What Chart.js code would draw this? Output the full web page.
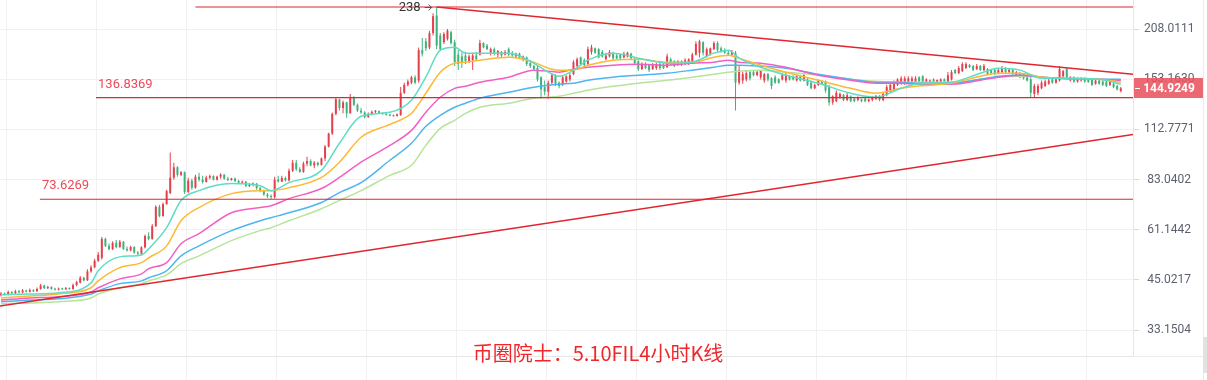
<!DOCTYPE html>
<html>
<head>
<meta charset="utf-8">
<script src="https://cdn.jsdelivr.net/npm/chart.js@4.4.0/dist/chart.umd.min.js"></script>
<style>
html, body { margin: 0; padding: 0; background: #fff; }
#wrap { width: 1207px; height: 380px; }
</style>
</head>
<body>
<div id="wrap"><canvas id="kline" width="1207" height="380"></canvas></div>
<script>
// FIL 4h candles, oldest first (one per 4 hours)
const opens = [
  41.0,41.4,41.2,41.8,41.5,42.0,41.7,42.2,41.9,42.3,42.0,42.6,43.5,42.8,43.1,42.6,42.4,42.7,42.5,42.8,
  42.6,43.6,44.3,45.6,44.9,47.4,48.6,50.6,51.5,57.8,55.4,54.3,56.4,55.0,56.8,54.4,53.9,55.0,53.2,52.8,
  54.9,58.8,57.8,62.5,70.3,66.5,71.5,76.5,84.0,89.5,85.5,86.8,77.0,82.5,79.0,84.5,83.0,81.8,84.0,84.8,
  83.0,84.5,85.6,83.5,82.8,83.6,82.3,81.5,82.0,79.8,80.6,81.0,78.8,77.5,75.8,75.0,74.6,83.0,82.0,83.8,
  82.6,87.6,92.0,88.5,87.0,91.5,93.0,90.5,92.0,90.8,94.5,101.5,110.0,124.0,135.5,128.5,133.0,124.5,137.0,131.0,
  126.5,125.0,121.5,124.0,125.5,126.0,124.5,123.8,123.2,122.6,122.3,123.0,141.0,148.0,150.0,155.0,152,183,193,186,
  203,226,200,192,196,204,192,178,176,177,171,172,177,178,191,188,180,184,178,181,
  178,184,180,176,179,173,175,169,166,164,155,146,142,150,157,150,148,151,153,158,
  166,175,172,168,181,185,184,181,173,176,180,177,178,175,176,179,173,171,163,168,
  167,163,164,168,167,165,173,171,168,171,168,169,170,178,180,192,176,179,184,191,
  185,183,180,178,180,150,152,153,160,160,157,155,152,158,154,155,153,153,152,156,
  156,152,156,152,153,150,145,148,151,151,146,133,134,137,139,135,138,136,135,135.5,
  136,134,135,136,138.5,135,139,142,143,148,149,150,150,151,150,155,156,150,150,153,
  150,150,153,149,153,162,159,161,164,167,166,163,166,162,163,162,162,159,160,164,
  160,162,157,159,158,155,153,140,141,145,147,149,153,150,152,156,163,152,155,151,
  152,154.5,153,153,149,152,151,151,148,149,147,142.5
];
const highs = [
  41.8,41.7,42.2,42.0,42.4,42.3,42.6,42.4,42.7,42.5,43.0,43.9,43.7,43.4,43.3,42.9,43.0,42.9,43.1,43.0,
  44.0,44.8,46.1,45.9,48.0,49.2,51.2,53.4,58.5,58.2,56.2,57.0,57.4,57.4,57.1,55.2,55.4,55.3,53.7,55.3,
  59.4,60.2,63.3,71.0,71.2,72.2,78.0,98.0,92.0,90.0,87.5,87.2,84.0,83.5,85.5,86.5,85.0,85.0,85.6,85.2,
  85.0,86.3,85.8,84.5,84.0,84.0,83.0,82.6,82.3,81.2,81.6,81.3,79.5,78.0,76.5,75.8,84.5,85.0,85.0,84.6,
  88.8,93.5,93.5,89.5,92.5,95.5,94.0,93.0,92.5,95.0,102.5,110.5,125.0,137.0,136.0,134.5,133.5,140.0,138.0,132.0,
  128.5,126.0,125.0,126.5,127.0,126.5,125.2,124.5,123.8,123.5,124.3,146.0,150.0,153.0,156.5,157.0,186,197,197,206,
  229,238,203,204,208,206,195,183,180,181,178,180,181,195,192,190,186,186,183,182,
  183,186,182,180,180,177,176,172,167,166,156,152,152,159,158,151,157,157,159,172,
  175,176,174,187,189,186,185,183,180,183,181,179,179,181,181,180,175,172,170,170,
  168,169,169,170,169,179,175,172,172,172,174,174,180,193,195,193,186,186,193,193,
  187,185,182,183,182,166,160,161,162,162,162,162,159,159,155,157,154,159,159,157,
  157,157,157,159,154,152,149,153,152,152,148,139,143,141,140,141,139,137,138,136,
  137,136,138,139,139,141,148,150,152,154,156,156,156,156,156,156,157,154,153,154,
  153,154,154,160,162,163,166,170,170,168,167,168,167,168,164,163,163,164,166,165,
  164,163,161,160,159,156,155,149,149,152,153,154,154,154,166,162,164,156,156,155,
  155,155,154,154,153,153,152,152,152,150,148,146
];
const lows = [
  40.7,40.9,41.0,41.2,41.3,41.5,41.5,41.7,41.7,41.8,41.9,42.4,42.6,42.6,42.4,42.2,42.2,42.3,42.3,42.4,
  42.4,43.3,44.0,44.6,44.7,47.0,48.3,50.2,51.0,55.0,53.9,54.0,54.6,54.8,54.0,53.5,53.6,52.8,52.3,52.5,
  54.5,57.3,57.5,62.2,66.0,66.2,71.2,76.0,83.0,84.5,84.8,76.0,76.5,78.0,78.5,82.0,81.0,81.5,83.2,82.5,
  82.6,83.5,83.0,82.3,82.4,81.8,80.8,81.0,79.2,79.4,79.6,78.0,76.8,75.2,74.2,73.8,74.0,81.5,81.8,82.0,
  82.0,87.0,87.6,86.5,86.5,90.0,90.0,89.0,90.0,90.5,93.0,101.0,109.0,123.0,126.5,124.5,121.0,124.0,130.0,125.5,
  124.0,120.5,121.0,123.0,124.5,124.0,123.3,122.7,122.2,121.8,122.0,122.5,140.0,146.5,148.5,148.5,150,176,182,184,
  200,184,182,190,194,189,166,162,164,168,169,162,172,177,185,183,177,177,175,175,
  177,176,175,174,174,171,166,164,161,151,136,139,136,148,147,145,147,150,151,157,
  165,166,166,167,178,179,174,175,172,175,172,173,172,174,175,172,168,161,162,163,
  160,162,162,162,163,164,166,165,166,166,167,167,169,177,175,177,175,177,183,181,
  180,179,177,177,126.5,148,149,151,152,156,156,153,150,151,144,149,149,152,150,152,
  152,151,151,151,147,144,144,147,148,141,130.5,131,133,136,134,134,133,133,134,133,
  133,133,134,135,134,134,138,141,142,147,148,148,149,149,148,149,149,149,149,149,
  149,149,149,148,152,158,158,160,163,164,161,162,161,161,157,158,157,158,159,158,
  159,157,156,154,153,151,136.9,137.5,139,144,146,148,149,149,151,154,153,151,150,150,
  151,150,150,147,148,148,147,146,147,145,143,141.5
];
const closes = [
  41.4,41.2,41.8,41.5,42.0,41.7,42.2,41.9,42.3,42.0,42.6,43.5,42.8,43.1,42.6,42.4,42.7,42.5,42.8,42.6,
  43.6,44.4,45.6,44.9,47.4,48.6,50.6,52.5,57.8,55.4,54.3,56.4,55.0,56.8,54.4,53.9,55.0,53.2,52.8,54.9,
  58.8,57.8,62.5,70.3,66.5,71.5,77.4,84.0,89.5,85.5,86.8,77.0,82.5,79.0,84.5,83.0,81.8,84.0,84.8,83.0,
  84.5,85.6,83.5,82.8,83.6,82.3,81.5,82.0,79.8,80.6,81.0,78.8,77.5,75.8,75.0,74.6,83.0,82.0,83.8,82.6,
  87.6,92.0,88.5,87.0,91.5,93.0,90.5,92.0,90.8,94.5,101.5,110.0,124.0,135.5,128.5,133.0,124.5,137.0,131.0,126.5,
  125.0,121.5,124.0,125.5,126.0,124.5,123.8,123.2,122.6,122.3,123.5,141.0,148.0,151.0,155.0,150.0,183,179,185,203,
  225,188,184,202,206,191,170,168,170,171,176,177,173,191,186,184,184,179,182,177,
  181,178,177,179,175,176,168,166,163,153,144,142,150,157,149,147,155,156,157,170,
  173,168,167,184,186,180,175,176,177,181,174,174,174,179,180,174,169,163,168,164,
  162,167,168,164,164,176,168,166,171,167,172,173,178,190,193,180,184,185,191,183,
  181,180,178,181,150,162,158,159,154,157,160,161,158,153,147,150,150,157,157,153,
  153,156,152,157,148,145,148,152,149,143,133,138,141,140,135,139,134,134,137,134,
  134,135.5,137.5,138.5,135,140,146,148,150,153,154,154,154,154,154,151,150,153,152,150,
  152.5,153,151,157,160,159,164,168,168,165,162,166,162,166,158,159,158,162,164,160,
  162.5,158,160,155,154,152,141,147,147,150,151,152,150,153,163,161,155,155,151,154,
  154.5,151,150.5,148,152,149,148,147,151,146,144,144.9249
];

// moving averages, read at these candle numbers
const maIdx = [0,8,16,25,27,33,39,41,46,50,55,64,72,75,80,89,94,100,108,114,
  118,122,126,129,133,141,148,152,155,159,163,170,177,185,192,198,202,205,211,218,
  227,236,243,250,254,264,272,277,283,289,294,305,311];
const ma5 = [41.1,41.3,41.6,44.2,47.6,51.8,52.4,54.4,61.9,73.1,77.6,81.0,80.0,77.6,81.5,87.8,103.6,122.2,125.2,134.7,
  155.1,182.9,186.3,179.6,179.6,179.6,168.9,159.9,156.0,161.9,172.1,179.6,174.2,168.9,170.0,179.6,182.9,174.2,164.8,157.0,
  149.5,140.6,137.2,144.9,148.6,150.4,158.9,163.8,161.9,154.1,154.1,153.2,148.6];
const ma10 = [40.3,40.8,41.3,42.9,44.75,48.5,50.0,51.5,55.4,64.6,70.0,76.2,77.6,77.6,79.0,84.1,92.3,107.5,116.3,124.4,
  140.6,159.9,168.9,170.0,172.1,175.2,170.0,163.8,161.9,161.9,166.9,172.1,173.1,170.0,170.0,175.2,177.4,174.2,166.9,159.9,
  152.2,144.9,140.6,144.9,146.7,149.5,156.0,158.9,158.9,155.1,154.1,153.2,150.4];
const ma20 = [39.8,40.3,40.6,41.8,42.9,45.3,46.7,48.2,50.0,56.1,59.7,67.8,70.0,70.8,73.9,78.6,84.1,92.3,102.3,112.1,
  125.2,137.2,144.9,146.7,150.4,155.1,161.9,160.9,159.9,162.9,164.8,166.9,167.9,166.9,168.9,170.0,172.1,170.0,168.9,164.8,
  157.0,152.2,149.5,149.5,148.6,148.6,152.2,155.1,157.0,155.1,154.1,153.2,152.2];
const ma30 = [39.4,39.8,40.1,41.3,42.1,44.0,44.75,45.6,47.6,52.1,55.4,60.8,64.6,65.8,67.8,72.2,76.7,81.5,93.4,103.6,
  114.9,122.9,129.1,132.3,136.4,141.4,145.8,147.6,148.6,149.5,152.2,155.1,157.0,158.9,161.9,164.8,166.9,166.9,165.9,163.8,
  157.9,153.2,150.4,150.4,149.5,149.5,153.2,156.0,157.0,155.1,154.1,153.2,153.2];
const ma60 = [38.9,39.1,39.4,40.3,41.3,42.9,44.0,44.75,46.4,49.7,52.1,57.2,60.8,61.9,64.6,69.5,73.1,77.6,85.2,90.6,
  102.3,113.5,119.2,124.4,129.1,132.3,136.4,137.2,138.0,140.6,143.2,146.7,149.5,152.2,155.1,157.9,159.9,160.9,161.9,159.9,
  157.0,153.2,151.3,150.4,150.4,150.4,153.2,155.1,156.0,155.1,154.1,153.2,152.2];

// horizontal levels and the candle they start from
const levels = [238, 136.8369, 73.6269];
const levelFrom = [54, 26.4, 10.8];

// trend lines: [candle, price] at each end
const upperTrend = [[121, 238], [314.4, 157.9]];
const lowerTrend = [[-0.28, 38.4], [314.4, 109.4]];

const yTicks = [33.1504, 45.0217, 61.1442, 83.0402, 112.7771, 153.1630, 208.0111];
const title = '币圈院士：5.10FIL4小时K线';

const upColor = '#e5414e';
const downColor = '#3fb27b';
const lineRed = '#e0262f';
const xMin = -0.28, xMax = 314.4;
const gridIdx = [];
for (let g = 1.4; g < xMax; g += 25) gridIdx.push(g);

const candleColors = opens.map((o, i) => closes[i] >= o ? upColor : downColor);

const maLine = (vals, color) => ({
  type: 'line',
  data: maIdx.map((x, k) => ({x: x, y: vals[k]})),
  borderColor: color,
  borderWidth: 1.5,
  pointRadius: 0,
  cubicInterpolationMode: 'monotone',
  order: 2
});

const segLine = (pts, width) => ({
  type: 'line',
  data: pts.map(p => ({x: p[0], y: p[1]})),
  borderColor: lineRed,
  borderWidth: width,
  pointRadius: 0,
  order: 1
});

const overlay = {
  id: 'overlay',
  afterDraw(chart) {
    const {ctx, chartArea: a, scales: {x, y}} = chart;
    ctx.save();

    // level captions
    ctx.font = '13px Roboto';
    ctx.textBaseline = 'alphabetic';
    ctx.fillStyle = '#ec4a58';
    ctx.textAlign = 'left';
    for (let k = 1; k < levels.length; k++) {
      const px = x.getPixelForValue(levelFrom[k]);
      const py = y.getPixelForValue(levels[k]);
      ctx.fillText(levels[k].toFixed(4), px + 2, py - 10);
    }

    // max price marker
    const peakX = x.getPixelForValue(upperTrend[0][0]);
    const peakY = y.getPixelForValue(levels[0]);
    ctx.fillStyle = '#333';
    ctx.textAlign = 'right';
    ctx.textBaseline = 'middle';
    ctx.fillText(String(levels[0]), peakX - 16, peakY + 1);
    ctx.strokeStyle = '#555';
    ctx.lineWidth = 1;
    ctx.beginPath();
    ctx.moveTo(peakX - 12, peakY + 0.5);
    ctx.lineTo(peakX - 5, peakY + 0.5);
    ctx.moveTo(peakX - 8, peakY - 2.5);
    ctx.lineTo(peakX - 5, peakY + 0.5);
    ctx.lineTo(peakX - 8, peakY + 3.5);
    ctx.stroke();

    // last price tag on the axis
    const last = closes[closes.length - 1];
    const ly = Math.round(y.getPixelForValue(last));
    ctx.fillStyle = 'rgba(232, 84, 96, 0.88)';
    ctx.fillRect(a.right + 1, ly - 10, 69, 20);
    ctx.strokeStyle = '#fff';
    ctx.beginPath();
    ctx.moveTo(a.right + 2, ly + 0.5);
    ctx.lineTo(a.right + 7, ly + 0.5);
    ctx.stroke();
    ctx.fillStyle = '#fff';
    ctx.font = 'bold 12px Roboto';
    ctx.textAlign = 'center';
    ctx.fillText(last.toFixed(4), a.right + 36, ly + 1);

    // right edge and bottom rule under the axis
    ctx.strokeStyle = '#ececec';
    ctx.beginPath();
    ctx.moveTo(1203.5, 0);
    ctx.lineTo(1203.5, 380);
    ctx.moveTo(a.right, a.bottom + 0.5);
    ctx.lineTo(1203, a.bottom + 0.5);
    ctx.stroke();
    ctx.fillStyle = '#e2e2e2';
    ctx.fillRect(1203, 337, 4, 36);

    // caption
    ctx.fillStyle = '#f0262a';
    ctx.font = '20px "Noto Sans CJK SC"';
    ctx.textAlign = 'center';
    ctx.textBaseline = 'middle';
    ctx.fillText(title, 598, 353);
    ctx.restore();
  }
};

new Chart(document.getElementById('kline'), {
  type: 'bar',
  data: {
    datasets: [
      ...levels.map((v, k) => segLine([[levelFrom[k], v], [xMax, v]], 1.2)),
      segLine(upperTrend, 1.5),
      segLine(lowerTrend, 1.5),
      maLine(ma5, '#5fdcc4'),
      maLine(ma10, '#fdb933'),
      maLine(ma20, '#f25fc3'),
      maLine(ma30, '#4db5ef'),
      maLine(ma60, '#b6e49a'),
      {
        data: lows.map((l, i) => ({x: i, y: [l, highs[i]]})),
        backgroundColor: candleColors,
        grouped: false,
        maxBarThickness: 1,
        minBarLength: 1,
        order: 3
      },
      {
        data: opens.map((o, i) => ({x: i, y: [o, closes[i]]})),
        backgroundColor: candleColors,
        grouped: false,
        maxBarThickness: 2,
        minBarLength: 1,
        order: 3
      }
    ]
  },
  options: {
    responsive: false,
    animation: false,
    events: [],
    layout: { padding: 0 },
    plugins: { legend: { display: false }, tooltip: { enabled: false } },
    scales: {
      x: {
        type: 'linear',
        offset: false,
        min: xMin,
        max: xMax,
        bounds: 'data',
        grid: { color: '#f1f1f1', tickColor: '#f1f1f1', tickLength: 24, offset: false },
        border: { color: '#e6e6e6' },
        ticks: { display: false },
        afterBuildTicks: s => { s.ticks = gridIdx.map(v => ({value: v})); },
        afterFit: s => { s.paddingLeft = 0; s.paddingRight = 0; s.height = 24; }
      },
      y: {
        type: 'logarithmic',
        position: 'right',
        min: 28.29,
        max: 248.4,
        bounds: 'data',
        grid: { color: '#f1f1f1', tickColor: '#d9d9d9', tickLength: 6 },
        border: { color: '#e6e6e6' },
        ticks: {
          crossAlign: 'center',
          padding: 5,
          color: '#5b616e',
          font: { family: 'Roboto', size: 12 },
          callback: v => Number(v).toFixed(4)
        },
        afterBuildTicks: s => { s.ticks = yTicks.map(v => ({value: v})); },
        afterFit: s => { s.width = 74; s.paddingTop = 0; s.paddingBottom = 0; }
      }
    }
  },
  plugins: [overlay]
});
</script>
</body>
</html>
